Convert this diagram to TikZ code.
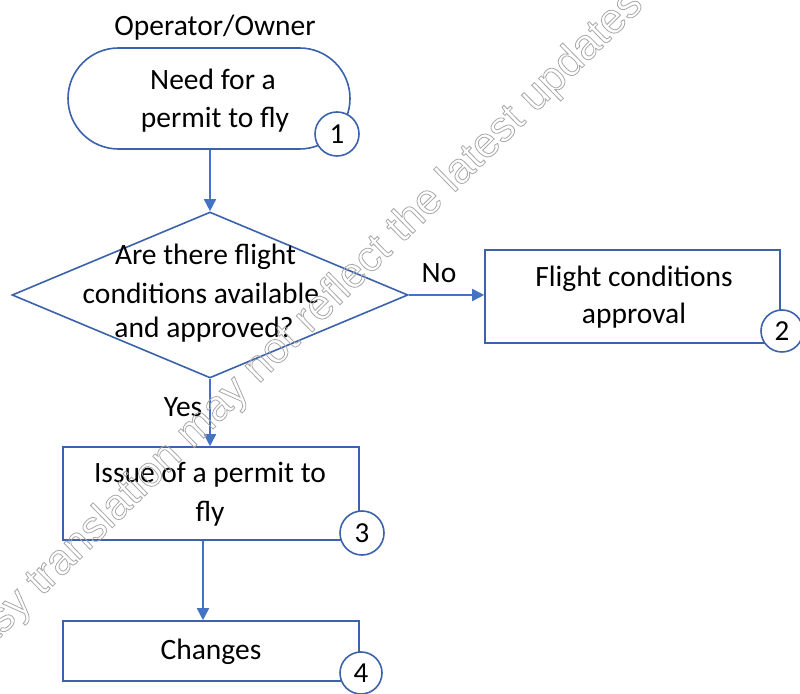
\documentclass[tikz,border=0pt]{standalone}
\usepackage{fontspec}
\setmainfont{Carlito}
\newfontfamily\wmfont{Liberation Sans}
\usetikzlibrary{shapes.geometric,shapes.misc,arrows.meta}
\definecolor{shapeblue}{HTML}{3B62AA}
\definecolor{arrowblue}{HTML}{4472C4}
\definecolor{wmgray}{HTML}{A8A8A8}
\begin{document}
\begin{tikzpicture}[x=1pt,y=1pt,
  shapebox/.style={draw=shapeblue, line width=1.6pt, inner sep=0pt},
  num/.style={circle, draw=shapeblue, fill=white, line width=1.6pt, minimum size=44pt, inner sep=0pt, font=\fontsize{29}{29}\selectfont},
  txt/.style={anchor=base, inner sep=0pt, font=\fontsize{29.5}{35}\selectfont},
  flow/.style={draw=arrowblue, line width=1.6pt, -{Triangle[length=12pt,width=12pt]}}]
\useasboundingbox (0,0) rectangle (800,693);
\fill[white] (0,0) rectangle (800,693);

% shapes
\node[shapebox, rounded rectangle, minimum width=282pt, minimum height=101pt] (start) at (209,594.5) {};
\node[shapebox, diamond, minimum width=396pt, minimum height=166pt] (dec) at (210,398) {};
\node[shapebox, rectangle, minimum width=295pt, minimum height=93pt] (appr) at (632.5,396.5) {};
\node[shapebox, rectangle, minimum width=296pt, minimum height=93pt] (issue) at (211,199.5) {};
\node[shapebox, rectangle, minimum width=296pt, minimum height=60pt] (chg) at (211,42) {};

% texts
\node[txt] (owner) at (215,657) {Operator/Owner};
\node[txt] (t1a) at (213,603) {Need for a};
\node[txt] (t1b) at (215,565) {permit to fly};
\node[txt] (t2a) at (205.5,428) {Are there flight};
\node[txt] (t2b) at (201,389) {conditions available};
\node[txt] (t2c) at (204,355) {and approved?};
\node[txt] (t3a) at (634,406) {Flight conditions};
\node[txt] (t3b) at (634,369) {approval};
\node[txt] (t4a) at (210,210) {Issue of a permit to};
\node[txt] (t4b) at (210,171) {fly};
\node[txt] (t5) at (211,33) {Changes};
\node[txt] (no) at (439,410) {No};
\node[txt] (yes) at (183,276) {Yes};

% connectors
\draw[flow] (dec.north |- start.south) -- (dec.north);
\draw[flow] (dec.east) -- (appr.west |- dec.east);
\draw[flow] (dec.south) -- (dec.south |- issue.north);
\draw[flow] ([xshift=-8pt]issue.south) -- ([xshift=-8pt]chg.north);

% numbered circles
\node[num] (n1) at (337,559) {1};
\node[num, minimum size=42pt] (n2) at (782,362) {2};
\node[num] (n3) at (362,160) {3};
\node[num, minimum size=42pt] (n4) at (361,20) {4};

% watermark
\node[rotate=44.4, anchor=base west, inner sep=0pt, text=wmgray, font=\wmfont\fontsize{43}{43}\selectfont] (wm) at (-35,21) {\special{pdf:literal direct 1 Tr 0.8 w}Easy translation may not reflect the latest updates\special{pdf:literal direct 0 Tr}};
\end{tikzpicture}
\end{document}
